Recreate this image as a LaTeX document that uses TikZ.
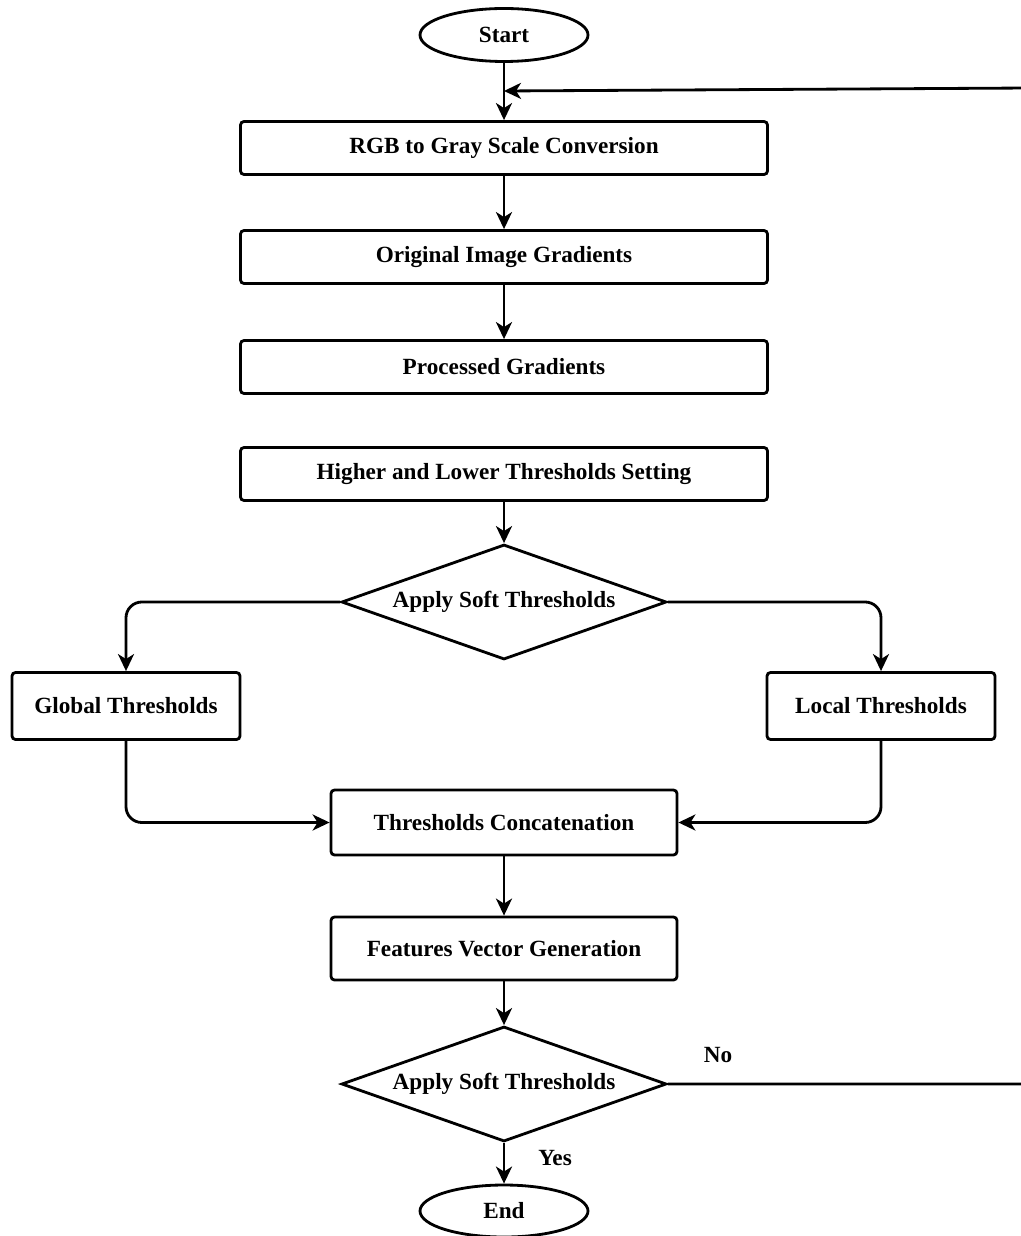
\documentclass[tikz,border=0pt]{standalone}
\usepackage{fontspec}
\setmainfont{Liberation Serif}
\usetikzlibrary{arrows.meta,shapes.geometric,calc}
\tikzset{
  step box/.style={draw,rounded corners=2pt,line width=1.6pt,align=center,
    minimum width=#1,minimum height=1.06cm,inner sep=2pt},
  step box/.default=10.54cm,
  term/.style={ellipse,draw,line width=1.6pt,minimum width=3.36cm,minimum height=1.06cm,
    inner sep=0pt},
  decide/.style={diamond,draw,line width=1.6pt,aspect=2.8,minimum width=6.5cm,
    minimum height=2.3cm,inner sep=0pt},
  arr/.style={-{Stealth[length=3.4mm,width=3.2mm,inset=1mm]},line width=1.6pt},
  tag/.style={font=\fontsize{13.2}{15}\selectfont\bfseries},
}
\begin{document}
\begin{tikzpicture}[font=\fontsize{13.2}{15}\selectfont\bfseries]
  \useasboundingbox (0,0) rectangle (20.42,-24.72);
  \node[term] (start) at (10.08,-0.70) {Start};
  \node[step box] (rgb)  at (10.08,-2.96) {RGB to Gray Scale Conversion};
  \node[step box] (orig) at (10.08,-5.14) {Original Image Gradients};
  \node[step box] (proc) at (10.08,-7.34) {Processed Gradients};
  \node[step box] (hilo) at (10.08,-9.48) {Higher and Lower Thresholds Setting};
  \node[decide] (dec1) at (10.08,-12.04) {Apply Soft Thresholds};
  \node[step box=4.56cm,minimum height=1.34cm] (glob) at (2.52,-14.12) {Global Thresholds};
  \node[step box=4.56cm,minimum height=1.34cm] (loc)  at (17.62,-14.12) {Local Thresholds};
  \node[step box=6.92cm,minimum height=1.3cm] (conc) at (10.08,-16.45) {Thresholds Concatenation};
  \node[step box=6.92cm,minimum height=1.26cm] (feat) at (10.08,-18.97) {Features Vector Generation};
  \node[decide] (dec2) at (10.08,-21.68) {Apply Soft Thresholds};
  \node[term,minimum height=1.04cm] (end) at (10.08,-24.22) {End};
  \node[tag] (yes) at (11.1,-23.16) {Yes};
  \node[tag] (no)  at (14.36,-21.1) {No};

  % main flow
  \draw[arr] (start) -- (rgb);
  \draw[arr] (rgb) -- (orig);
  \draw[arr] (orig) -- (proc);
  \draw[arr] (hilo) -- (dec1);
  \draw[arr,rounded corners=9pt] (dec1.west) -| (glob.north);
  \draw[arr,rounded corners=9pt] (dec1.east) -| (loc.north);
  \draw[arr,rounded corners=9pt] (glob.south) |- (conc.west);
  \draw[arr,rounded corners=9pt] (loc.south) |- (conc.east);
  \draw[arr] (conc) -- (feat);
  \draw[arr] (feat) -- (dec2);
  \draw[arr] (dec2) -- (end);

  % loop back (No)
  \coordinate (mrg) at (start.south |- 0,-1.82);
  \coordinate (loopc) at (20.6,-1.76);
  \draw[arr] (dec2.east) -| (loopc) -- (mrg);
\end{tikzpicture}
\end{document}
